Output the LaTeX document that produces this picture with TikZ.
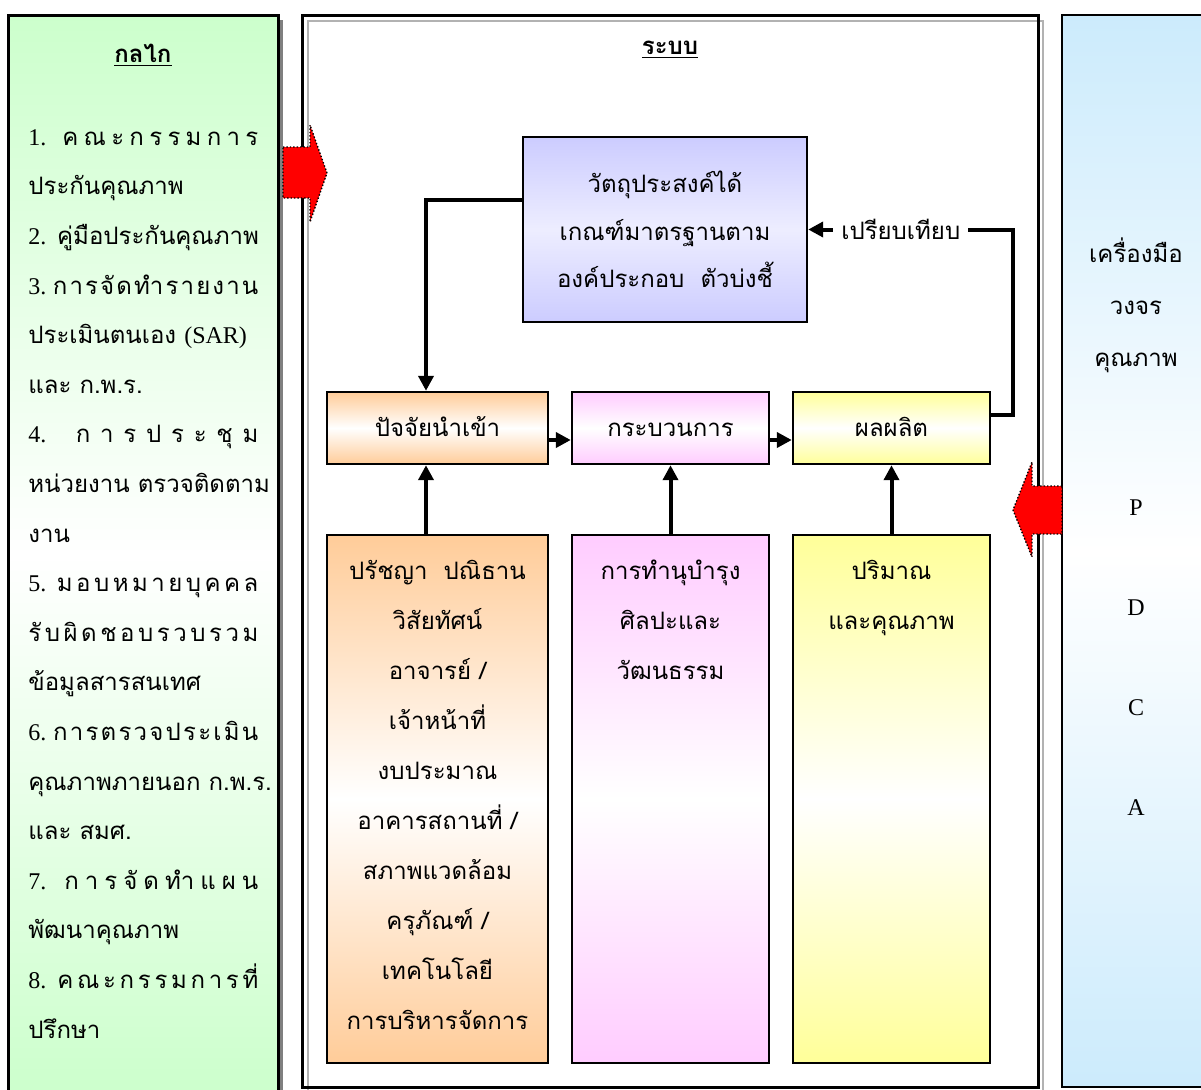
\documentclass[tikz,border=0pt]{standalone}
\usepackage{fontspec}
\setmainfont[Script=Thai]{Loma}
\newfontfamily\tnr{Liberation Serif}
\usetikzlibrary{arrows.meta,shadows}

\definecolor{mechgreen}{HTML}{CCFFCC}
\definecolor{toolblue}{HTML}{CCEBFC}
\definecolor{objblue}{HTML}{CCCCFF}
\definecolor{inorange}{HTML}{FFCC99}
\definecolor{procpink}{HTML}{FFCCFF}
\definecolor{prodyellow}{HTML}{FFFF99}

% spread a line over the width of the left column
\newcommand{\spr}[1]{\makebox[115pt][l]{#1}}

\begin{document}
\begin{tikzpicture}[x=0.5pt, y=-0.5pt, >={Triangle[length=7.5pt, width=7.5pt]},
	thaitext/.style={font=\fontsize{12}{25}\selectfont},
	panel/.style={draw, line width=1.5pt, inner sep=0pt},
	blockbox/.style={draw, line width=1.2pt, inner sep=0pt, align=center, thaitext},
	stagebox/.style={blockbox, minimum height=36pt, text height=9.5pt, text depth=1pt},
	link/.style={->, line width=2pt},
	bigarrow/.style={fill=red, draw=black, densely dotted, line width=0.7pt}]

	\useasboundingbox (0,0) rectangle (1201,1089);

	% the three panels
	\node[panel, minimum width=135pt, minimum height=540pt, top color=mechgreen, bottom color=mechgreen, middle color=white,
		drop shadow={shadow xshift=2.5pt, shadow yshift=-2.5pt, fill=gray, opacity=1}] (mech) at (143,555) {};
	\draw[gray!60, line width=1pt] (308,21) rectangle (1043,1095);
	\node[panel, minimum width=368pt, minimum height=536pt] (sys) at (670,551) {};
	\node[panel, line width=1pt, minimum width=74pt, minimum height=536pt, top color=toolblue, bottom color=toolblue, middle color=white] (tools) at (1136,551) {};

	\node[font=\fontsize{12}{14}\selectfont\bfseries] (mechtitle) at (143,55) {\underline{กลไก}};
	\node[font=\fontsize{12}{14}\selectfont\bfseries] (systitle) at (670,50) {\underline{ระบบ}};

	\node[align=left, anchor=north west, inner sep=0pt, font=\fontsize{12}{24.8}\selectfont] (mechtxt) at (28,129) {%
		\spr{{\tnr 1.}\hfill\hfill\hfill ค\hfill ณ\hfill ะ\hfill ก\hfill ร\hfill ร\hfill ม\hfill ก\hfill า\hfill ร}\\
		ประกันคุณภาพ\\
		{\tnr 2.} คู่มือประกันคุณภาพ\\
		\spr{{\tnr 3.}\hfill\hfill\hfill ก\hfill า\hfill ร\hfill จั\hfill ด\hfill ทำ\hfill ร\hfill า\hfill ย\hfill ง\hfill า\hfill น}\\
		ประเมินตนเอง {\tnr (SAR)}\\
		และ ก.พ.ร.\\
		\spr{{\tnr 4.}\hfill\hfill\hfill ก\hfill า\hfill ร\hfill ป\hfill ร\hfill ะ\hfill ชุ\hfill ม}\\
		หน่วยงาน ตรวจติดตาม\\
		งาน\\
		\spr{{\tnr 5.}\hfill\hfill\hfill ม\hfill อ\hfill บ\hfill ห\hfill ม\hfill า\hfill ย\hfill บุ\hfill ค\hfill ค\hfill ล}\\
		\spr{รั\hfill บ\hfill ผิ\hfill ด\hfill ช\hfill อ\hfill บ\hfill ร\hfill ว\hfill บ\hfill ร\hfill ว\hfill ม}\\
		ข้อมูลสารสนเทศ\\
		\spr{{\tnr 6.}\hfill\hfill\hfill ก\hfill า\hfill ร\hfill ต\hfill ร\hfill ว\hfill จ\hfill ป\hfill ร\hfill ะ\hfill เ\hfill มิ\hfill น}\\
		คุณภาพภายนอก ก.พ.ร.\\
		และ สมศ.\\
		\spr{{\tnr 7.}\hfill\hfill\hfill ก\hfill า\hfill ร\hfill จั\hfill ด\hfill ทำ\hfill แ\hfill ผ\hfill น}\\
		พัฒนาคุณภาพ\\
		\spr{{\tnr 8.}\hfill\hfill\hfill ค\hfill ณ\hfill ะ\hfill ก\hfill ร\hfill ร\hfill ม\hfill ก\hfill า\hfill ร\hfill ที่}\\
		ปรึกษา};

	% objectives
	\node[blockbox, minimum width=142pt, minimum height=92.5pt, top color=objblue, bottom color=objblue, middle color=objblue!35,
		font=\fontsize{12}{23.75}\selectfont] (obj) at (665,229.5) {วัตถุประสงค์ได้\\เกณฑ์มาตรฐานตาม\\องค์ประกอบ~~ตัวบ่งชี้};

	% input, process, output
	\node[stagebox, minimum width=110.5pt, top color=inorange, bottom color=inorange, middle color=white] (inp) at (437.5,428) {ปัจจัยนำเข้า};
	\node[stagebox, minimum width=98.5pt, top color=procpink, bottom color=procpink, middle color=white] (proc) at (670.5,428) {กระบวนการ};
	\node[stagebox, minimum width=98.5pt, top color=prodyellow, bottom color=prodyellow, middle color=white] (prod) at (891.5,428) {ผลผลิต};

	\node[blockbox, minimum width=110.5pt, minimum height=264pt, top color=inorange, bottom color=inorange, middle color=white] (inbot) at (437.5,799) {};
	\node[blockbox, minimum width=98.5pt, minimum height=264pt, top color=procpink, bottom color=procpink, middle color=white] (procbot) at (670.5,799) {};
	\node[blockbox, minimum width=98.5pt, minimum height=264pt, top color=prodyellow, bottom color=prodyellow, middle color=white] (prodbot) at (891.5,799) {};

	\node[thaitext, align=center, anchor=north, inner sep=0pt] (inbottxt) at ([yshift=-13pt]inbot.north)
		{ปรัชญา~~ปณิธาน\\วิสัยทัศน์\\อาจารย์ /\\เจ้าหน้าที่\\งบประมาณ\\อาคารสถานที่ /\\สภาพแวดล้อม\\ครุภัณฑ์ /\\เทคโนโลยี\\การบริหารจัดการ};
	\node[thaitext, align=center, anchor=north, inner sep=0pt] (procbottxt) at ([yshift=-13pt]procbot.north)
		{การทำนุบำรุง\\ศิลปะและ\\วัฒนธรรม};
	\node[thaitext, align=center, anchor=north, inner sep=0pt] (prodbottxt) at ([yshift=-13pt]prodbot.north)
		{ปริมาณ\\และคุณภาพ};

	% tools
	\node[align=center, font=\fontsize{12}{26}\selectfont] (toolname) at (1136,305) {เครื่องมือ\\วงจร\\คุณภาพ};
	\node[align=center, font=\tnr\fontsize{12}{50}\selectfont] (pdca) at (1136,658) {P\\D\\C\\A};

	% connectors
	\draw[link] ([yshift=14.75pt]obj.west) -| ([xshift=-5.75pt]inp.north);
	\draw[link] ([xshift=-5.75pt]inbot.north) -- ([xshift=-5.75pt]inp.south);
	\draw[link] (procbot) -- (proc);
	\draw[link] (prodbot) -- (prod);
	\draw[link] ([yshift=-6pt]inp.east) -- ([yshift=-6pt]proc.west);
	\draw[link] ([yshift=-6pt]proc.east) -- ([yshift=-6pt]prod.west);
	\coordinate (fbturn) at (1013,415);
	\draw[link] (prod.east |- fbturn) -- (fbturn) |- node[pos=0.774, fill=white, inner xsep=4pt, thaitext] (cmp) {เปรียบเทียบ} (obj.east);

	% red arrows
	\draw[bigarrow] (283,147) -- (310,147) -- (310,125) -- (327,173) -- (310,222) -- (310,198) -- (283,198) -- cycle;
	\draw[bigarrow] (1062,486) -- (1032,486) -- (1032,462) -- (1013,510) -- (1032,557) -- (1032,534) -- (1062,534) -- cycle;
\end{tikzpicture}
\end{document}
